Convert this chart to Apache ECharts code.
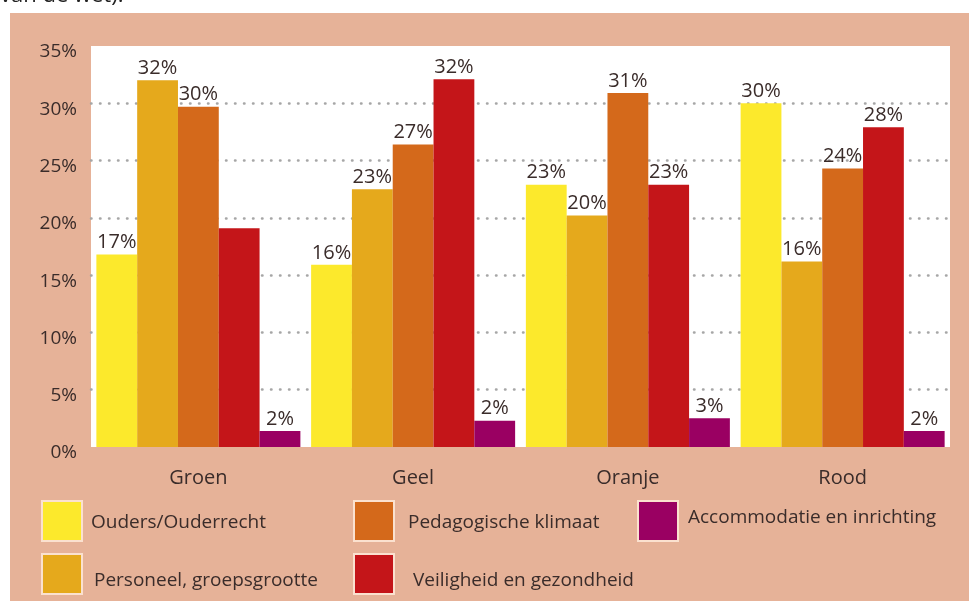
<!DOCTYPE html>
<html>
<head>
<meta charset="utf-8">
<script src="https://cdn.jsdelivr.net/npm/echarts@6/dist/echarts.min.js"></script>
<style>
  html, body { margin: 0; padding: 0; background: #fff; }
  #chart { width: 969px; height: 601px; }
</style>
</head>
<body>
<div id="chart"></div>
<script>
// categories and series (bar heights, labels as printed)
const categories = ["Groen", "Geel", "Oranje", "Rood"];
const seriesNames = [
  "Ouders/Ouderrecht",
  "Personeel, groepsgrootte",
  "Pedagogische klimaat",
  "Veiligheid en gezondheid",
  "Accommodatie en inrichting"
];
const ouders = [16.8, 15.9, 22.9, 30.0];
const personeel = [32.0, 22.5, 20.2, 16.2];
const pedagogisch = [29.7, 26.4, 30.9, 24.3];
const veiligheid = [19.1, 32.1, 22.9, 27.9];
const accommodatie = [1.4, 2.3, 2.5, 1.4];

const oudersLabels = ["17%", "16%", "23%", "30%"];
const personeelLabels = ["32%", "23%", "20%", "16%"];
const pedagogischLabels = ["30%", "27%", "31%", "24%"];
const veiligheidLabels = [null, "32%", "23%", "28%"];
const accommodatieLabels = ["2%", "2%", "3%", "2%"];

const yTicks = [0, 5, 10, 15, 20, 25, 30, 35];

const colors = ["#fce92c", "#e5a91c", "#d4691b", "#c41519", "#9a0062"];
const values = [ouders, personeel, pedagogisch, veiligheid, accommodatie];
const labels = [oudersLabels, personeelLabels, pedagogischLabels, veiligheidLabels, accommodatieLabels];

const font = "'Open Sans', sans-serif";
const textColor = "#3a2c2a";

const chart = echarts.init(document.getElementById("chart"));

// one legend per item so they can sit in the 3x2 layout of the original
function legendAt(name, left, top, pad) {
  return {
    data: [name],
    left: left,
    top: top,
    padding: 0,
    orient: "horizontal",
    icon: "rect",
    itemWidth: 40,
    itemHeight: 40,
    itemGap: 0,
    itemStyle: { borderColor: "#fbe1cf", borderWidth: 2 },
    formatter: "{t|{name}}",
    textStyle: {
      rich: {
        t: { fontFamily: font, fontSize: 19, lineHeight: 20, color: textColor, padding: pad }
      }
    },
    selectedMode: false
  };
}

chart.setOption({
  backgroundColor: "#e6b298",
  animation: false,
  graphic: [
    { type: "rect", shape: { x: 0, y: 0, width: 969, height: 13 }, style: { fill: "#fff" } },
    { type: "rect", shape: { x: 0, y: 0, width: 10, height: 601 }, style: { fill: "#fff" } },
    {
      type: "text", left: 0, top: -15,
      style: { text: "van de wet).", font: "22px 'Open Sans', sans-serif", fill: "#222" }
    }
  ],
  grid: {
    left: 91, right: 19, top: 46, bottom: 154,
    show: true, backgroundColor: "#fff", borderWidth: 0
  },
  legend: [
    legendAt(seriesNames[0], 41, 500, [4, 0, 0, 4]),
    legendAt(seriesNames[1], 41, 553, [14, 0, 0, 7]),
    legendAt(seriesNames[2], 353, 500, [4, 0, 0, 9]),
    legendAt(seriesNames[3], 353, 553, [14, 0, 0, 14]),
    legendAt(seriesNames[4], 637, 500, [0, 0, 6, 5])
  ],
  xAxis: {
    type: "category",
    data: categories,
    axisLine: { show: false },
    axisTick: { show: false },
    axisLabel: { fontFamily: font, fontSize: 20, color: textColor, margin: 21 }
  },
  yAxis: {
    type: "value",
    min: yTicks[0],
    max: yTicks[yTicks.length - 1],
    interval: 5,
    axisLine: { show: false },
    axisTick: { show: false },
    axisLabel: {
      fontFamily: font, fontSize: 19, color: textColor, margin: 14,
      verticalAlign: "top",
      lineHeight: 12,
      formatter: "{value}%"
    },
    splitLine: {
      lineStyle: {
        color: ["transparent", "#a6a6a6", "#a6a6a6", "#a6a6a6", "#a6a6a6", "#a6a6a6", "#a6a6a6", "transparent"],
        width: 2.5,
        type: [0.5, 8.5],
        cap: "round"
      }
    }
  },
  series: seriesNames.map(function (name, i) {
    return {
      name: name,
      type: "bar",
      barGap: 0,
      barCategoryGap: "5%",
      itemStyle: { color: colors[i] },
      data: values[i],
      label: {
        show: true,
        position: "top",
        distance: 2,
        fontFamily: font,
        fontSize: 20,
        color: textColor,
        formatter: function (p) { return labels[i][p.dataIndex] || ""; }
      }
    };
  })
});
</script>
</body>
</html>
